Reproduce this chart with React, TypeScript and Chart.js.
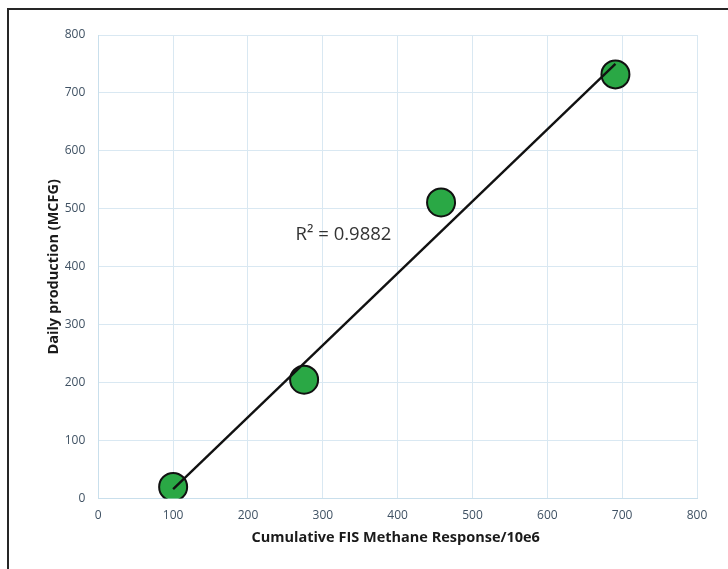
import React, { useEffect, useRef } from "react";
import { Chart, registerables } from "chart.js";

Chart.register(...registerables);

const responseValues = [100, 275, 458, 691];
const productionValues = [20, 205, 511, 732];
const trendX = [100, 691];
const trendY = [16, 750];
const xTicks = [0, 100, 200, 300, 400, 500, 600, 700, 800];
const yTicks = [0, 100, 200, 300, 400, 500, 600, 700, 800];
const xTitle = "Cumulative FIS Methane Response/10e6";
const yTitle = "Daily production (MCFG)";
const r2Label = "R² = 0.9882";
const r2Pos = { x: 265, y: 456 };

const tickColor = "#3f5163";
const gridColor = "#d9e8f2";

export default function App() {
  const ref = useRef<HTMLCanvasElement | null>(null);

  useEffect(() => {
    if (!ref.current) return;
    const textPlugin = {
      id: "texts",
      afterDraw(chart: any) {
        const { ctx, chartArea, scales } = chart;
        ctx.save();
        ctx.fillStyle = "#333333";
        ctx.font = "18.5px 'Open Sans'";
        ctx.textAlign = "left";
        ctx.textBaseline = "middle";
        ctx.fillText(r2Label, scales.x.getPixelForValue(r2Pos.x) - 1, scales.y.getPixelForValue(r2Pos.y));
        ctx.fillStyle = "#1a1a1a";
        ctx.font = "bold 14.5px 'Open Sans'";
        ctx.textAlign = "center";
        ctx.fillText(xTitle, (chartArea.left + chartArea.right) / 2 - 2, 538);
        ctx.translate(54, (chartArea.top + chartArea.bottom) / 2);
        ctx.rotate(-Math.PI / 2);
        ctx.fillText(yTitle, 0, 0);
        ctx.restore();
      },
    };

    const chart = new Chart(ref.current, {
      type: "scatter",
      data: {
        datasets: [
          {
            type: "line",
            data: trendX.map((x, i) => ({ x, y: trendY[i] })),
            borderColor: "#111111",
            borderWidth: 2.4,
            pointRadius: 0,
            fill: false,
          } as any,
          {
            data: responseValues.map((x, i) => ({ x, y: productionValues[i] })),
            backgroundColor: "#2aa845",
            borderColor: "#111111",
            borderWidth: 2,
            pointRadius: 14,
            pointHoverRadius: 14,
          },
        ],
      },
      options: {
        animation: false,
        responsive: false,
        maintainAspectRatio: false,
        layout: { padding: { left: 0, right: 31, top: 35, bottom: 0 } },
        plugins: { legend: { display: false }, tooltip: { enabled: false } },
        scales: {
          x: {
            type: "linear",
            min: 0,
            max: 800,
            afterFit(scale: any) {
              scale.height = 70.5;
            },
            afterBuildTicks(scale: any) {
              scale.ticks = xTicks.map((v) => ({ value: v }));
            },
            grid: { color: gridColor, drawTicks: false, lineWidth: 1 },
            border: { color: "#c9dfec", width: 1 },
            ticks: {
              color: tickColor,
              font: { family: "'Open Sans'", size: 12 },
              padding: 10,
              maxRotation: 0,
            },
          },
          y: {
            type: "linear",
            min: 0,
            max: 800,
            afterFit(scale: any) {
              scale.width = 98.3;
            },
            afterBuildTicks(scale: any) {
              scale.ticks = yTicks.map((v) => ({ value: v }));
            },
            grid: { color: gridColor, drawTicks: false, lineWidth: 1 },
            border: { color: "#c9dfec", width: 1 },
            ticks: {
              color: tickColor,
              font: { family: "'Open Sans'", size: 12 },
              padding: 13,
            },
          },
        },
      },
      plugins: [textPlugin],
    });
    return () => chart.destroy();
  }, []);

  return (
    <div style={{ position: "fixed", left: 0, top: 0, width: 728, height: 569, background: "#ffffff" }}>
      <div
        style={{
          position: "absolute",
          left: 7,
          top: 8,
          width: 730,
          height: 570,
          borderTop: "2px solid #262626",
          borderLeft: "2px solid #262626",
        }}
      />
      <canvas ref={ref} width={728} height={569} style={{ position: "absolute", left: 0, top: 0, width: 728, height: 569 }} />
    </div>
  );
}
